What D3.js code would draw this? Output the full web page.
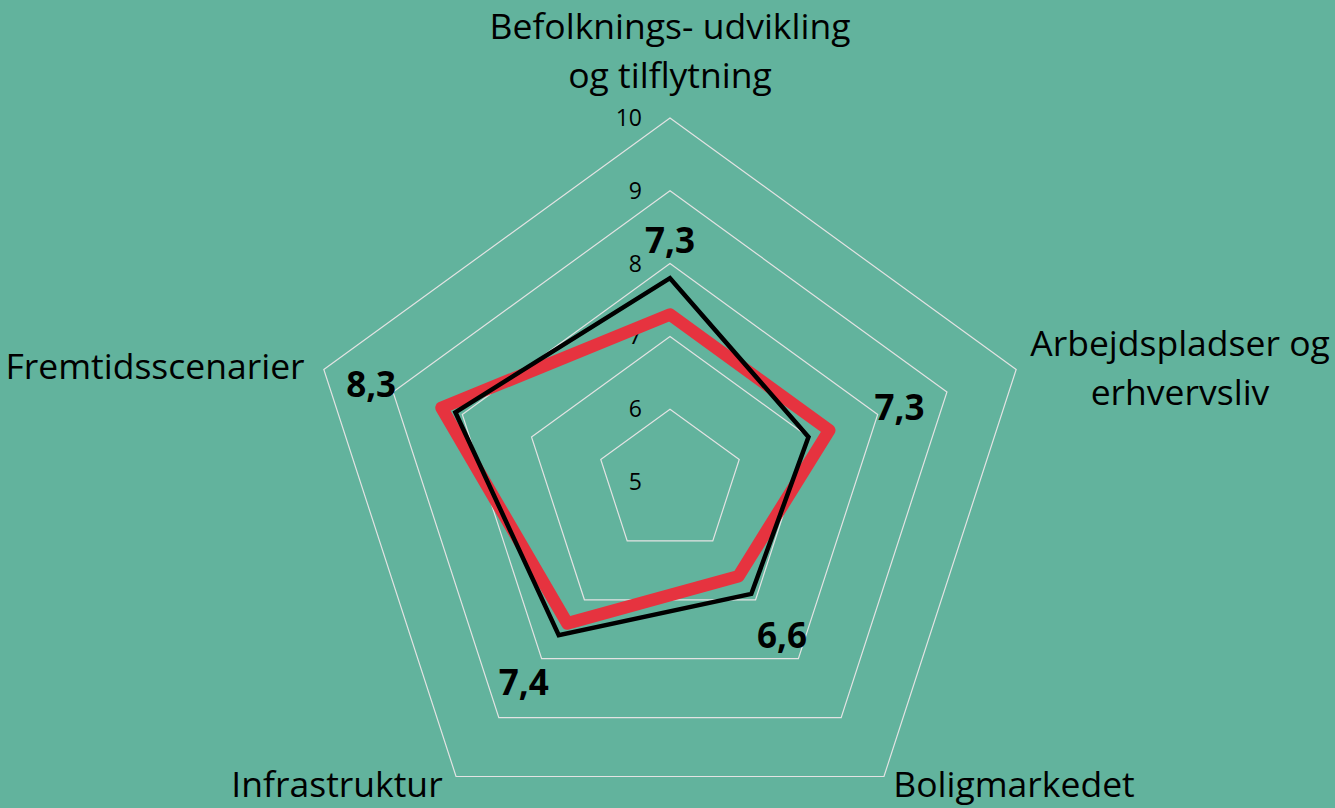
<!DOCTYPE html>
<html>
<head>
<meta charset="utf-8">
<script src="https://cdn.jsdelivr.net/npm/d3@7"></script>
<style>
  body { margin: 0; background: #62b39d; }
  svg { display: block; }
  text { font-family: "Open Sans", "Noto Sans", sans-serif; fill: #000; }
</style>
</head>
<body>
<div id="chart"></div>
<script>
// axis categories (clockwise from top)
var categories = [
    ["Befolknings- udvikling", "og tilflytning"],
    ["Arbejdspladser og", "erhvervsliv"],
    ["Boligmarkedet"],
    ["Infrastruktur"],
    ["Fremtidsscenarier"]
];
var redValues   = [7.3, 7.3, 6.6, 7.4, 8.3];
var blackValues = [7.8, 7.0, 6.9, 7.6, 8.1];
var dataLabels  = ["7,3", "7,3", "6,6", "7,4", "8,3"];
var ticks = [5, 6, 7, 8, 9, 10];

var width = 1335, height = 808;
var cx = 670, cy = 482;

var svg = d3.select("#chart").append("svg")
    .attr("width", width)
    .attr("height", height);

var r = d3.scaleLinear().domain([5, 10]).range([0, 364]);

// angle for each axis, 0 = straight up
var angle = d3.scaleLinear().domain([0, categories.length]).range([0, 2 * Math.PI]);

function point(i, radius) {
    var a = angle(i);
    return [cx + radius * Math.sin(a), cy - radius * Math.cos(a)];
}

// grid rings
ticks.slice(1).forEach(function(t) {
    var pts = categories.map(function(c, i) { return point(i, r(t)); });
    svg.append("polygon")
        .attr("points", pts.map(function(p) { return p.join(","); }).join(" "))
        .attr("fill", "none")
        .attr("stroke", "#e3e3e3")
        .attr("stroke-width", 1.2);
});

// tick labels
svg.selectAll(".tick")
    .data(ticks)
    .enter().append("text")
    .attr("class", "tick")
    .attr("x", cx - 28)
    .attr("y", function(d) { return cy - r(d); })
    .attr("dy", "0.35em")
    .attr("text-anchor", "end")
    .style("font-size", "23px")
    .text(function(d) { return d; });

var line = d3.line()
    .x(function(d, i) { return point(i, r(d))[0]; })
    .y(function(d, i) { return point(i, r(d))[1]; })
    .curve(d3.curveLinearClosed);

svg.append("path")
    .attr("d", line(redValues))
    .attr("fill", "none")
    .attr("stroke", "#e6333f")
    .attr("stroke-width", 12.5)
    .attr("stroke-linejoin", "round");

svg.append("path")
    .attr("d", line(blackValues))
    .attr("fill", "none")
    .attr("stroke", "#000")
    .attr("stroke-width", 4.5)
    .attr("stroke-linejoin", "miter");

// data labels, placed outside the red points
svg.selectAll(".dlabel")
    .data(redValues)
    .enter().append("text")
    .attr("class", "dlabel")
    .attr("x", function(d, i) { return point(i, r(d) + 74)[0]; })
    .attr("y", function(d, i) { return point(i, r(d) + 74)[1]; })
    .attr("dy", "0.35em")
    .attr("text-anchor", "middle")
    .style("font-size", "35px")
    .style("font-weight", "bold")
    .text(function(d, i) { return dataLabels[i]; });

// category labels
var labelPos = [
    {x: 670, y: 39},
    {x: 1180, y: 356},
    {x: 1014, y: 797},
    {x: 337, y: 797},
    {x: 155, y: 379}
];
categories.forEach(function(lines, i) {
    var t = svg.append("text")
        .attr("x", labelPos[i].x)
        .attr("y", labelPos[i].y)
        .attr("text-anchor", "middle")
        .style("font-size", "35.5px");
    lines.forEach(function(l, j) {
        t.append("tspan")
            .attr("x", labelPos[i].x)
            .attr("dy", j === 0 ? 0 : 49)
            .text(l);
    });
});
</script>
</body>
</html>
